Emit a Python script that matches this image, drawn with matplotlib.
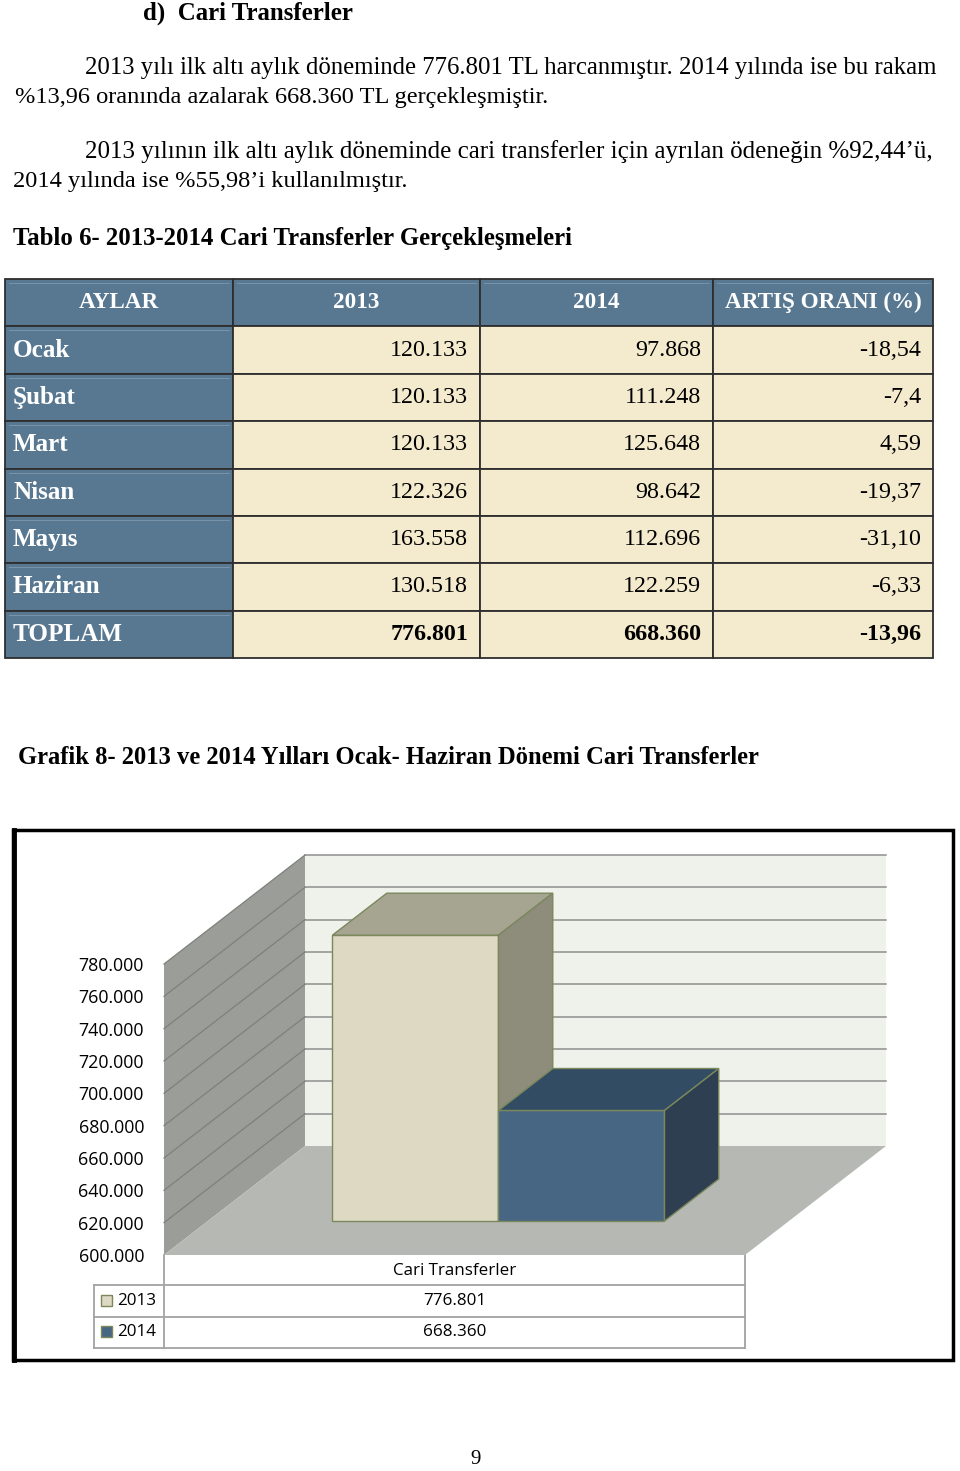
import numpy as np
import matplotlib
matplotlib.use('Agg')
import matplotlib.pyplot as plt
from matplotlib.patches import Rectangle, Polygon

# table data
headers = ['AYLAR', '2013', '2014', 'ARTIŞ ORANI (%)']
months = ['Ocak', 'Şubat', 'Mart', 'Nisan', 'Mayıs', 'Haziran']
val_2013 = ['120.133', '120.133', '120.133', '122.326', '163.558', '130.518']
val_2014 = ['97.868', '111.248', '125.648', '98.642', '112.696', '122.259']
artis = ['-18,54', '-7,4', '4,59', '-19,37', '-31,10', '-6,33']
total_row = ['TOPLAM', '776.801', '668.360', '-13,96']

# chart data
chart_category = 'Cari Transferler'
chart_years = ['2013', '2014']
chart_values = [776801, 668360]
y_ticks = [600000, 620000, 640000, 660000, 680000, 700000, 720000, 740000, 760000, 780000]

paragraphs = [
    '2013 yılı ilk altı aylık döneminde 776.801 TL harcanmıştır. 2014 yılında ise bu rakam',
    '%13,96 oranında azalarak 668.360 TL gerçekleşmiştir.',
    '2013 yılının ilk altı aylık döneminde cari transferler için ayrılan ödeneğin %92,44’ü,',
    '2014 yılında ise %55,98’i kullanılmıştır.',
]
heading = 'd)  Cari Transferler'
table_title = 'Tablo 6- 2013-2014 Cari Transferler Gerçekleşmeleri'
chart_title = 'Grafik 8- 2013 ve 2014 Yılları Ocak- Haziran Dönemi Cari Transferler'

SERIF = 'Liberation Serif'
HEAD = 'Liberation Serif'
SANS = 'Open Sans'

fig = plt.figure(figsize=(9.6, 14.71), dpi=100)
page = fig.add_axes([0, 0, 1, 1])
page.set_xlim(0, 960)
page.set_ylim(1471, 0)
page.axis('off')
renderer = fig.canvas.get_renderer()


def fit(s, width, weight='normal', family=SERIF):
    # font size that makes s about `width` pixels wide
    t = page.text(0, 0, s, fontsize=20, fontweight=weight, family=family)
    w = t.get_window_extent(renderer).width
    t.remove()
    return 20 * width / w


# ---- text on top of the page ----
page.text(143, 13, heading, fontsize=fit(heading, 210, 'bold'), fontweight='bold',
          family=SERIF, va='center')
fs_body = fit(paragraphs[1], 535)
page.text(85, 68, paragraphs[0], fontsize=fit(paragraphs[0], 853), family=SERIF, va='center')
page.text(15, 97, paragraphs[1], fontsize=fs_body, family=SERIF, va='center')
page.text(85, 152, paragraphs[2], fontsize=fit(paragraphs[2], 848), family=SERIF, va='center')
page.text(13, 181, paragraphs[3], fontsize=fs_body, family=SERIF, va='center')
page.text(13, 238, table_title, fontsize=fit(table_title, 557, 'bold'), fontweight='bold',
          family=SERIF, va='center')

# ---- table ----
col_x = [5, 233, 480, 713, 933]
row_y = np.linspace(279, 658, 9)
blue = '#587892'
cream = '#f4eacd'
rows = [headers] + [[m, a, b, c] for m, a, b, c in zip(months, val_2013, val_2014, artis)] + [total_row]

fs_head = fit('ARTIŞ ORANI (%)', 197, 'bold', HEAD)
fs_lab = fit('Haziran', 88, 'bold', HEAD)
fs_val = fit('120.133', 78)

for r, row in enumerate(rows):
    y0, y1 = row_y[r], row_y[r + 1]
    yc = (y0 + y1) / 2
    for c, txt in enumerate(row):
        x0, x1 = col_x[c], col_x[c + 1]
        fc = blue if (r == 0 or c == 0) else cream
        page.add_patch(Rectangle((x0, y0), x1 - x0, y1 - y0, fc=fc, ec='#2e2e2e', lw=1.3))
        if fc == blue:
            # faint inner highlight of the blue cells
            page.plot([x0 + 4, x1 - 4], [y0 + 4, y0 + 4], color='#7f98ad', lw=0.6)
        if r == 0:
            page.text((x0 + x1) / 2, yc, txt, color='white', fontweight='bold', family=HEAD,
                      fontsize=fs_head, ha='center', va='center')
        elif c == 0:
            page.text(13, yc, txt, color='white', fontweight='bold', family=HEAD,
                      fontsize=fs_lab, ha='left', va='center')
        else:
            bold = r == len(rows) - 1
            page.text(x1 - 12, yc, txt, fontweight='bold' if bold else 'normal', family=SERIF,
                      fontsize=fs_val, ha='right', va='center')

# ---- chart ----
page.text(18, 757, chart_title, fontsize=fit(chart_title, 743, 'bold'), fontweight='bold',
          family=SERIF, va='center')
page.add_patch(Rectangle((13, 830), 940, 530, fc='none', ec='black', lw=2.5))
page.plot([14, 14], [830, 1360], color='black', lw=3.5)

ax = fig.add_axes([164 / 960, (1471 - 1255) / 1471, 581 / 960, 291 / 1471])
ax.set_xlim(0, 1)
ax.set_ylim(y_ticks[0], y_ticks[-1])
ax.patch.set_visible(False)
for sp in ax.spines.values():
    sp.set_visible(False)
ax.set_xticks([])
ax.set_yticks(y_ticks)
ax.set_yticklabels([f'{v:,}'.replace(',', '.') for v in y_ticks], family=SANS)
ax.tick_params(axis='y', length=0, pad=14.4, labelsize=fit('780.000', 66, family=SANS))

# depth of the 3d box in data units
ddx = 141 / 581
ddy = 109 / 291 * (y_ticks[-1] - y_ticks[0])
ymin, ymax = y_ticks[0], y_ticks[-1]


def P(x, y, d):
    return (x + d * ddx, y + d * ddy)


def face(pts, fc, ec='none', lw=0, z=1):
    ax.add_patch(Polygon(pts, closed=True, fc=fc, ec=ec, lw=lw, clip_on=False, zorder=z))


face([P(0, ymin, 1), P(1, ymin, 1), P(1, ymax, 1), P(0, ymax, 1)], '#eef2ea')
face([P(0, ymin, 0), P(0, ymin, 1), P(0, ymax, 1), P(0, ymax, 0)], '#9b9d98')
face([P(0, ymin, 0), P(1, ymin, 0), P(1, ymin, 1), P(0, ymin, 1)], '#b6b9b3')

for v in y_ticks[1:]:
    xs, ys = zip(P(0, v, 1), P(1, v, 1))
    ax.plot(xs, ys, color='#8f8f8f', lw=1.1, clip_on=False, zorder=2)
    xs, ys = zip(P(0, v, 0), P(0, v, 1))
    ax.plot(xs, ys, color='#7e807b', lw=0.9, clip_on=False, zorder=2)

bar_colors = [('#ddd9c3', '#a6a592', '#8e8c7b'), ('#466683', '#324c63', '#2d3f50')]
bw = 166 / 581
d0, d1 = 0.312, 0.697
for i, v in enumerate(chart_values):
    x0 = 0.5 - bw + i * bw
    x1 = x0 + bw
    fr, tp, sd = bar_colors[i]
    ec = '#7b875c'
    face([P(x0, ymin, d0), P(x1, ymin, d0), P(x1, v, d0), P(x0, v, d0)], fr, ec, 1, 3 + i)
    face([P(x0, v, d0), P(x1, v, d0), P(x1, v, d1), P(x0, v, d1)], tp, ec, 1, 3 + i)
    face([P(x1, ymin, d0), P(x1, ymin, d1), P(x1, v, d1), P(x1, v, d0)], sd, ec, 1, 3 + i)

# data table under the chart
lc = '#a3a3a3'
for yy in [1285, 1317, 1348]:
    page.plot([94, 745], [yy, yy], color=lc, lw=1.3)
page.plot([94, 94], [1285, 1348], color=lc, lw=1.3)
page.plot([164, 164], [1255, 1348], color=lc, lw=1.3)
page.plot([745, 745], [1255, 1348], color=lc, lw=1.3)

fs_dt = fit('776.801', 63, family=SANS)
page.text(454.5, 1271, chart_category, fontsize=fs_dt, family=SANS, ha='center', va='center')
for i, (yr, v) in enumerate(zip(chart_years, chart_values)):
    yc = 1301 + i * 31
    page.add_patch(Rectangle((101, yc - 6), 11, 11, fc=bar_colors[i][0], ec='#7b875c', lw=1))
    page.text(117, yc, yr, fontsize=fs_dt, family=SANS, ha='left', va='center')
    page.text(454.5, yc, f'{v:,}'.replace(',', '.'), fontsize=fs_dt, family=SANS,
              ha='center', va='center')

page.text(476, 1460, '9', fontsize=15, family=SERIF, ha='center', va='center')

fig.savefig('out.png', dpi=100)
